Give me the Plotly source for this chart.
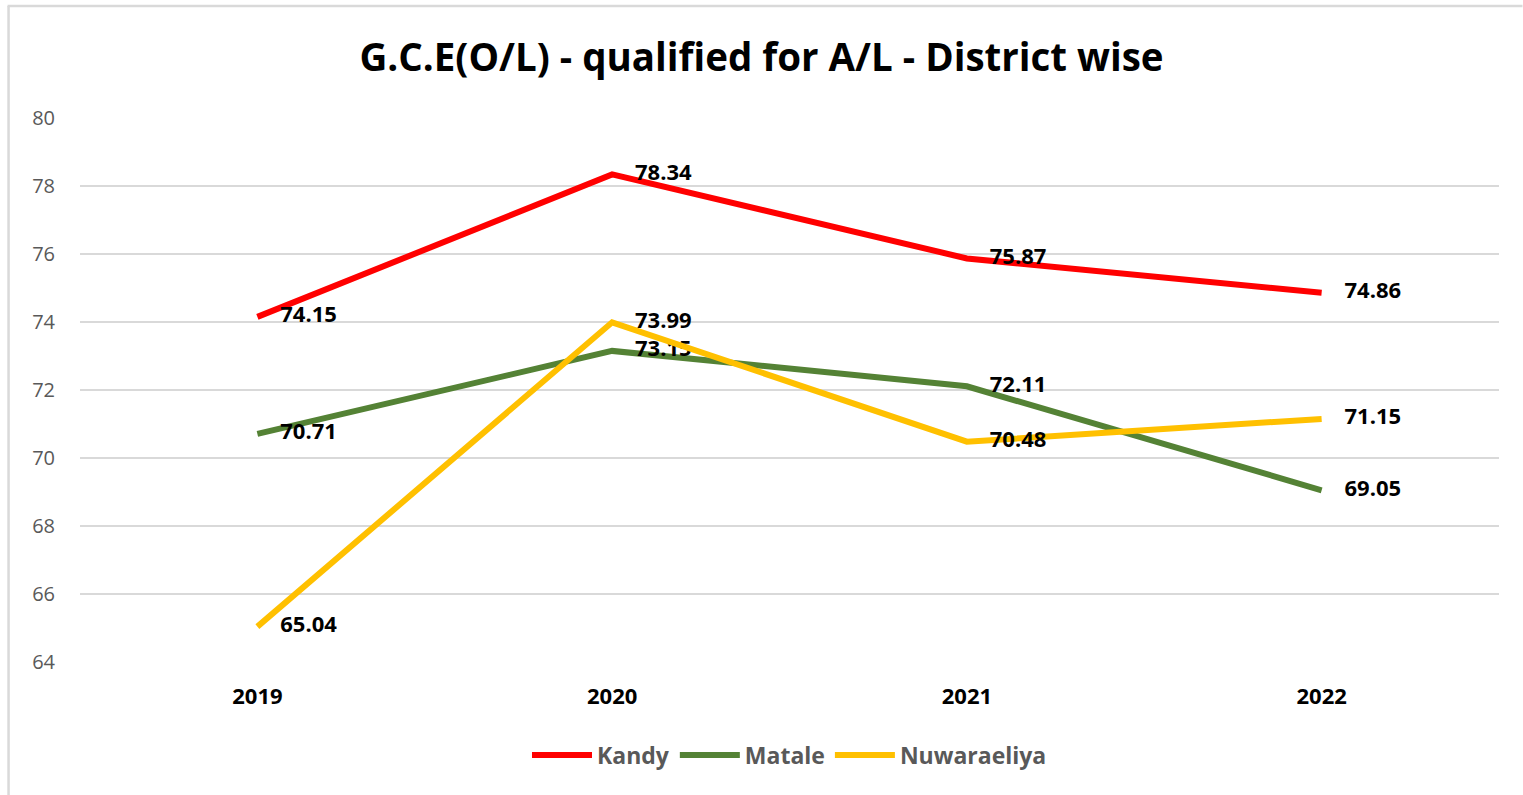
import plotly.graph_objects as go

years = ["2019", "2020", "2021", "2022"]
kandy = [74.15, 78.34, 75.87, 74.86]
matale = [70.71, 73.15, 72.11, 69.05]
nuwaraeliya = [65.04, 73.99, 70.48, 71.15]
series = [("Kandy", kandy, "#FF0000"), ("Matale", matale, "#548235"), ("Nuwaraeliya", nuwaraeliya, "#FFC000")]
yticks = [64, 66, 68, 70, 72, 74, 76, 78, 80]

fig = go.Figure()
for name, vals, col in series:
    fig.add_trace(go.Scatter(
        x=years, y=vals, name=name, mode="lines+text",
        line=dict(color=col, width=6),
        text=[f"{v:.2f}" for v in vals], textposition="middle right",
        texttemplate="    %{text}",
        textfont=dict(family="Open Sans", size=22, color="#000000", weight="bold"),
        cliponaxis=False,
    ))

W, H = 1523, 795
L, R, T, B = 79.5, 23.5, 118, 133
pw, ph = W - L - R, H - T - B

def px(x):
    return (x - L) / pw

def py(y):
    return (H - B - y) / ph

border = dict(color="#D9D9D9", width=2.5)
fig.add_shape(type="line", xref="paper", yref="paper", x0=px(7), x1=px(W), y0=py(6), y1=py(6), line=border)
fig.add_shape(type="line", xref="paper", yref="paper", x0=px(8), x1=px(8), y0=py(6), y1=py(H), line=border)

fig.update_layout(
    width=W, height=H,
    margin=dict(l=L, r=R, t=T, b=B),
    paper_bgcolor="white", plot_bgcolor="white",
    title=dict(text="G.C.E(O/L) - qualified for A/L - District wise", x=0.5, xanchor="center",
               y=1 - 58 / H, yanchor="middle",
               font=dict(family="Open Sans", size=38.5, color="#000000", weight="bold")),
    xaxis=dict(type="category", range=[-0.5, 3.5], showgrid=False, zeroline=False,
               showline=False, ticks="", ticklabelstandoff=19,
               tickfont=dict(family="Open Sans", size=22, color="#000000", weight="bold")),
    yaxis=dict(range=[64, 80], tickvals=yticks, showgrid=True, gridcolor="#D9D9D9", gridwidth=2,
               zeroline=False, showline=False, ticks="", ticklabelstandoff=24,
               tickfont=dict(family="Open Sans", size=20, color="#595959")),
    legend=dict(orientation="h", x=0.5, xanchor="center", y=py(755), yanchor="middle",
                font=dict(family="Open Sans", size=23, color="#595959", weight="bold"),
                itemwidth=60, tracegroupgap=0),
    showlegend=True,
)
fig.write_html("out.html", config={"displayModeBar": False},
               post_script="document.body.style.margin='0';")
